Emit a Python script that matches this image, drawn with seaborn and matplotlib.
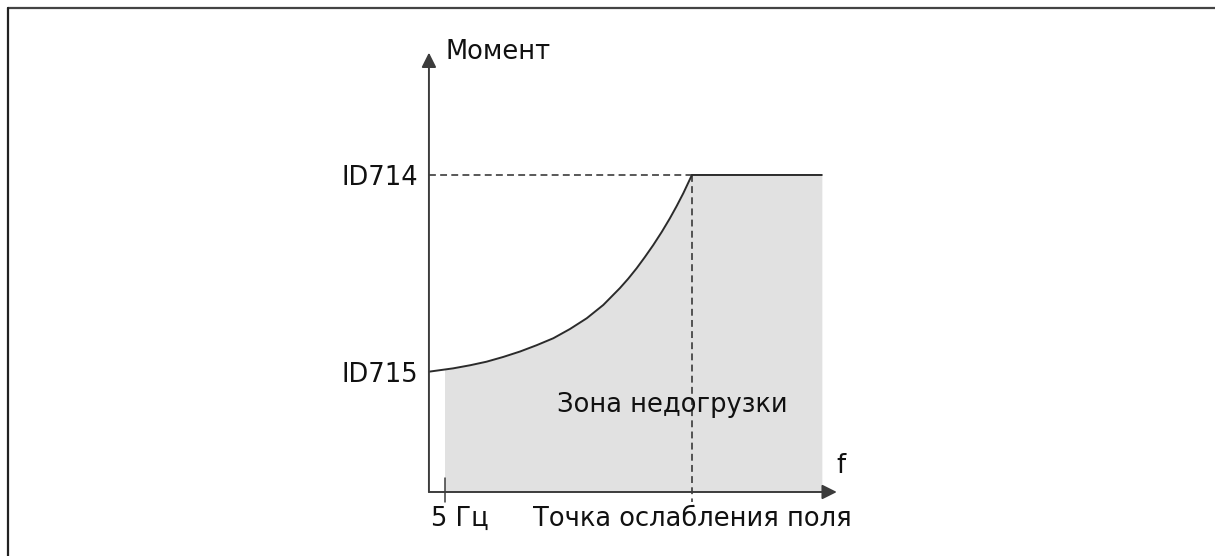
import matplotlib
matplotlib.use("Agg")
import matplotlib.pyplot as plt
from matplotlib.lines import Line2D
from matplotlib.patches import Rectangle
import pandas as pd
import seaborn as sns

# Underload curve: frequency (relative to the field weakening point) vs torque
# (relative to the ID714 level)
freq = [0.0, 0.092, 0.156, 0.219, 0.2825, 0.346, 0.4095, 0.473, 0.536, 0.600,
        0.663, 0.726, 0.758, 0.790, 0.821, 0.853, 0.885, 0.916, 0.942, 0.967, 1.0]
torque = [0.3795, 0.390, 0.3997, 0.411, 0.426, 0.443, 0.463, 0.485, 0.514, 0.548,
          0.590, 0.643, 0.673, 0.706, 0.741, 0.779, 0.820, 0.863, 0.902, 0.942, 1.0]

f_5hz = 0.061          # 5 Hz mark
f_field_weak = 1.0     # field weakening point
f_max = 1.494          # end of the underload zone
level_714 = 1.0
level_715 = 0.3795

tick_labels = ["ID714", "ID715"]
x_labels = ["5 Гц", "Точка ослабления поля"]
axis_titles = ["Момент", "f"]
zone_label = "Зона недогрузки"

sns.set_theme(style="white")
plt.rcParams["font.family"] = ["DejaVu Sans"]

fig = plt.figure(figsize=(12.15, 5.56), dpi=100)
ax = fig.add_axes([0, 0, 1, 1])
ax.set_xlim(-1.631, 2.989)
ax.set_ylim(-0.2019, 1.552)
ax.axis("off")

dark = "#2b2b2b"
axis_col = "#3c3c3c"
fill_col = "#e1e1e1"
fs = 18.5

# Underload zone
curve = pd.DataFrame({"f": freq + [f_max], "T": torque + [level_714]})
poly = ax.fill_between(curve["f"], 0, curve["T"], color=fill_col, lw=0, zorder=1)
clip = Rectangle((f_5hz, -1), 10, 10, transform=ax.transData, visible=False)
ax.add_patch(clip)
poly.set_clip_path(clip)

# Torque curve and flat section
sns.lineplot(data=curve, x="f", y="T", ax=ax, color=dark, lw=1.4,
             estimator=None, sort=False, zorder=3,
             solid_joinstyle="round", solid_capstyle="round")

# Dashed reference lines
ax.plot([0, f_field_weak], [level_714, level_714], color=dark, lw=1.1,
        dashes=(4.5, 2.8), zorder=2)
ax.plot([f_field_weak, f_field_weak], [level_714, -0.031], color=dark, lw=1.1,
        dashes=(4.5, 2.8), zorder=2)

# 5 Hz tick
ax.plot([f_5hz, f_5hz], [0.044, -0.031], color=axis_col, lw=1.1, zorder=3)

# Axes with arrowheads
arrow = dict(arrowstyle="-|>", lw=1.4, color=axis_col, mutation_scale=22,
             shrinkA=0, shrinkB=0)
ax.annotate("", xy=(1.551, 0), xytext=(0, 0), arrowprops=arrow, zorder=4)
ax.annotate("", xy=(0, 1.386), xytext=(0, 0), arrowprops=arrow, zorder=4)

# Texts
ax.text(0.0635, 1.365, axis_titles[0], fontsize=fs, ha="left", va="baseline", color="#111")
ax.text(1.551, 0.059, axis_titles[1], fontsize=fs, ha="left", va="baseline", color="#111")
ax.text(-0.042, 0.969, tick_labels[0], fontsize=fs, ha="right", va="baseline", color="#111")
ax.text(-0.042, 0.348, tick_labels[1], fontsize=fs, ha="right", va="baseline", color="#111")
ax.text(0.008, -0.107, x_labels[0], fontsize=fs, ha="left", va="baseline", color="#111")
ax.text(1.607, -0.107, x_labels[1], fontsize=fs, ha="right", va="baseline", color="#111")
ax.text(0.4856, 0.253, zone_label, fontsize=fs, ha="left", va="baseline", color="#111")

# Frame (top and left edges)
fig.add_artist(Line2D([7.7 / 1215, 1.0], [1 - 8.3 / 556, 1 - 8.3 / 556],
                      transform=fig.transFigure, color="#444444", lw=1.6))
fig.add_artist(Line2D([7.7 / 1215, 7.7 / 1215], [0.0, 1 - 8.3 / 556],
                      transform=fig.transFigure, color="#222222", lw=1.6))

fig.savefig("out.png", dpi=100)
